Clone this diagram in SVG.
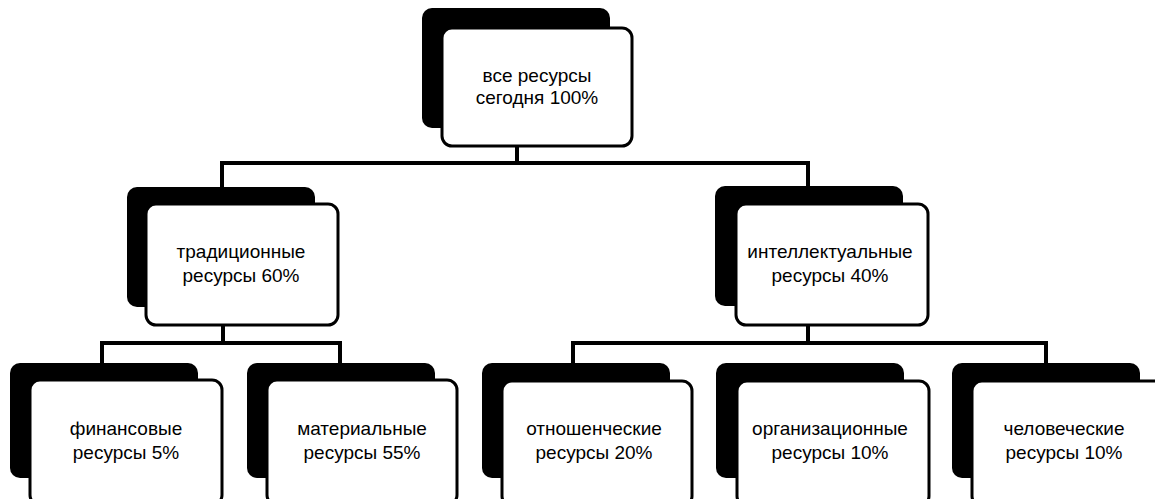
<svg xmlns="http://www.w3.org/2000/svg" width="1155" height="499" viewBox="0 0 1155 499">
<style>
.back{fill:#000;}
.front{fill:#fff;stroke:#000;stroke-width:3;}
.lbl{font-family:"Liberation Sans",Arial,sans-serif;font-size:19px;fill:#000;text-anchor:middle;}
.con{stroke:#000;stroke-width:4;fill:none;}
</style>
<rect width="1155" height="499" fill="#fff"/>
<g id="connectors">
<path class="con" d="M517 146 V163 M222 163 H810 M222 161 V188 M808 161 V188"/>
<path class="con" d="M223 325 V343 M102 343 H340 M102 341 V364 M340 341 V364"/>
<path class="con" d="M808 325 V343 M573 343 H1046 M573 341 V364 M1046 341 V364"/>
</g>
<g id="n-all">
<rect class="back" x="422" y="8" width="188" height="120" rx="10"/>
<rect class="front" x="442" y="28" width="190" height="118" rx="10"/>
<text class="lbl" x="537" y="82">все ресурсы</text>
<text class="lbl" x="537" y="104">сегодня 100%</text>
</g>
<g id="n-trad">
<rect class="back" x="127" y="187" width="188" height="120" rx="10"/>
<rect class="front" x="146" y="204" width="192" height="121" rx="10"/>
<text class="lbl" x="241" y="258">традиционные</text>
<text class="lbl" x="241" y="282">ресурсы 60%</text>
</g>
<g id="n-intel">
<rect class="back" x="715" y="186" width="188" height="120" rx="10"/>
<rect class="front" x="736" y="204" width="192" height="121" rx="10"/>
<text class="lbl" x="830" y="258">интеллектуальные</text>
<text class="lbl" x="830" y="282">ресурсы 40%</text>
</g>
<g id="n-fin">
<rect class="back" x="10" y="363" width="188" height="115" rx="10"/>
<rect class="front" x="30" y="380" width="192" height="125" rx="10"/>
<text class="lbl" x="126" y="435">финансовые</text>
<text class="lbl" x="126" y="459">ресурсы 5%</text>
</g>
<g id="n-mat">
<rect class="back" x="247" y="363" width="188" height="115" rx="10"/>
<rect class="front" x="267" y="380" width="190" height="125" rx="10"/>
<text class="lbl" x="362" y="435">материальные</text>
<text class="lbl" x="362" y="459">ресурсы 55%</text>
</g>
<g id="n-rel">
<rect class="back" x="482" y="363" width="188" height="115" rx="10"/>
<rect class="front" x="502" y="381" width="190" height="125" rx="10"/>
<text class="lbl" x="594" y="435">отношенческие</text>
<text class="lbl" x="594" y="459">ресурсы 20%</text>
</g>
<g id="n-org">
<rect class="back" x="716" y="363" width="188" height="115" rx="10"/>
<rect class="front" x="737" y="381" width="192" height="125" rx="10"/>
<text class="lbl" x="830" y="435">организационные</text>
<text class="lbl" x="830" y="459">ресурсы 10%</text>
</g>
<g id="n-hum">
<rect class="back" x="952" y="363" width="188" height="115" rx="10"/>
<rect class="front" x="972" y="381" width="192" height="125" rx="10"/>
<text class="lbl" x="1064" y="435">человеческие</text>
<text class="lbl" x="1064" y="459">ресурсы 10%</text>
</g>
</svg>
